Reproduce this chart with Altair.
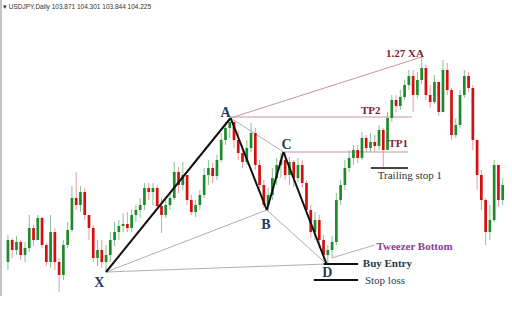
import altair as alt
import pandas as pd

# ---- candle data (price units) ----
first_open = 62
closes = [84, 74, 82, 69, 76, 96, 84, 106, 79, 62, 92, 62, 49, 79, 94, 126, 119, 132, 109, 96,
          66, 74, 62, 69, 84, 92, 98, 100, 96, 109, 114, 119, 136, 132, 136, 118, 109, 119, 126, 152,
          139, 149, 124, 112, 119, 129, 149, 156, 148, 164, 184, 196, 202, 184, 171, 162, 176, 191, 159, 139,
          119, 129, 146, 159, 164, 149, 162, 146, 159, 141, 114, 92, 104, 84, 69, 74, 82, 124, 139, 156,
          166, 174, 166, 186, 176, 182, 178, 194, 174, 206, 224, 218, 227, 239, 248, 229, 244, 256, 229, 222,
          242, 212, 254, 234, 189, 199, 229, 248, 236, 184, 149, 124, 92, 104, 159, 124, 139]
highs = [89, 86, 88, 84, 82, 109, 99, 109, 107, 81, 109, 96, 66, 84, 102, 138, 152, 138, 136, 102,
         99, 84, 84, 79, 92, 102, 104, 111, 112, 114, 119, 126, 141, 141, 141, 139, 126, 124, 132, 162,
         157, 162, 149, 129, 124, 134, 156, 164, 161, 169, 191, 202, 206, 204, 194, 179, 184, 201, 196, 164,
         144, 136, 156, 166, 171, 172, 167, 164, 166, 164, 144, 119, 112, 109, 89, 79, 88, 131, 144, 164,
         174, 179, 179, 192, 189, 191, 189, 199, 196, 212, 229, 229, 234, 244, 254, 254, 252, 267, 259, 239,
         249, 229, 264, 261, 236, 206, 234, 254, 252, 239, 184, 154, 126, 119, 164, 159, 146]
lows = [54, 66, 69, 64, 62, 72, 78, 84, 76, 58, 56, 54, 32, 44, 76, 92, 114, 112, 104, 84,
        62, 58, 56, 52, 62, 78, 84, 92, 92, 92, 102, 106, 114, 124, 119, 114, 91, 106, 114, 124,
        131, 134, 119, 109, 107, 114, 126, 139, 141, 144, 162, 179, 186, 176, 164, 156, 159, 172, 154, 134,
        116, 113, 124, 139, 146, 144, 139, 137, 142, 136, 109, 86, 84, 76, 64, 60, 66, 79, 119, 134,
        152, 159, 161, 164, 172, 172, 172, 174, 156, 174, 202, 212, 214, 224, 234, 212, 226, 240, 224, 216,
        220, 208, 212, 229, 184, 186, 196, 226, 232, 174, 134, 114, 79, 84, 102, 117, 119]

rows = []
prev = first_open
for i, c in enumerate(closes):
    o = prev
    rows.append({"i": i, "open": o, "close": c,
                 "high": max(highs[i], o, c), "low": min(lows[i], o, c),
                 "up": c >= o})
    prev = c
candles = pd.DataFrame(rows)

# ---- harmonic pattern points (index, price) ----
pts = {"X": (23.0, 52), "A": (52.2, 206), "B": (60.7, 114), "C": (64.6, 172), "D": (74.7, 60)}
XA127 = (97.0, 267)

def seg(p, q, style):
    return {"x": p[0], "y": p[1], "x2": q[0], "y2": q[1], "style": style}

segments = pd.DataFrame([
    seg(pts["X"], pts["B"], "thin"),
    seg(pts["X"], pts["D"], "thin"),
    seg(pts["A"], pts["C"], "thin"),
    seg(pts["B"], pts["D"], "thin"),
    seg((75.9, 66), (86.0, 79), "thin"),
    seg(pts["A"], XA127, "brown"),
    seg((52.2, 207), (94.7, 207), "brown"),
    seg((64.6, 172), (93.8, 172), "brown"),
    seg(pts["X"], pts["A"], "black"),
    seg(pts["A"], pts["B"], "black"),
    seg(pts["B"], pts["C"], "black"),
    seg(pts["C"], pts["D"], "black"),
    seg((74.0, 60), (82.1, 60), "black"),
    seg((71.7, 44), (82.1, 44), "black"),
    seg((85.1, 156), (93.8, 156), "grey"),
])

letters = pd.DataFrame({"t": ["X", "A", "B", "C", "D"],
                        "x": [21.4, 51.0, 60.5, 65.3, 74.9],
                        "y": [41, 211, 99, 179, 51]})
brown_labels = pd.DataFrame({"t": ["1.27 XA", "TP2", "TP1"],
                             "x": [93.1, 85.06, 91.5], "y": [270, 213, 180]})
left_bold = pd.DataFrame({"t": ["Tweezer Bottom", "Buy Entry"],
                          "x": [86.4, 83.2], "y": [77, 60],
                          "c": ["#8e3b97", "#1e3d52"]})
left_reg = pd.DataFrame({"t": ["Trailing stop 1", "Stop loss"],
                         "x": [86.7, 83.7], "y": [148, 43],
                         "c": ["#333333", "#2a3d50"]})

header = "\u25BE  USDJPY,Daily  103.871 104.301 103.844 104.225"

xs = alt.Scale(domain=[-0.69, 117.01], nice=False, zero=False)
ys = alt.Scale(domain=[0, 324], nice=False, zero=False)
X = lambda f: alt.X(f, type="quantitative", scale=xs, axis=None)
Y = lambda f: alt.Y(f, type="quantitative", scale=ys, axis=None)

color_up = alt.condition("datum.up", alt.value("#1d8a2c"), alt.value("#d40f0f"))
wick_col = alt.condition("datum.up", alt.value("#86c48c"), alt.value("#e79aa2"))

base = alt.Chart(candles)
wicks = base.mark_rule(strokeWidth=1).encode(x=X("i"), y=Y("low"), y2="high", color=wick_col)
bodies = base.mark_bar(size=2.7).encode(x=X("i"), y=Y("open"), y2="close", color=color_up)

segs = alt.Chart(segments)
thin = segs.transform_filter("datum.style=='thin'").mark_rule(color="#9a9a9a", strokeWidth=0.8).encode(
    x=X("x"), y=Y("y"), x2="x2", y2="y2")
brown = segs.transform_filter("datum.style=='brown'").mark_rule(color="#c9959a", strokeWidth=1).encode(
    x=X("x"), y=Y("y"), x2="x2", y2="y2")
black = segs.transform_filter("datum.style=='black'").mark_rule(color="#111111", strokeWidth=2).encode(
    x=X("x"), y=Y("y"), x2="x2", y2="y2")
grey = segs.transform_filter("datum.style=='grey'").mark_rule(color="#444444", strokeWidth=2).encode(
    x=X("x"), y=Y("y"), x2="x2", y2="y2")

serif = "Liberation Serif"
t_letters = alt.Chart(letters).mark_text(font=serif, fontSize=14, fontWeight="bold", color="#1f3b5c",
                                         baseline="middle", align="center").encode(x=X("x"), y=Y("y"), text="t")
t_brown = alt.Chart(brown_labels).mark_text(font=serif, fontSize=11, fontWeight="bold", color="#7f2233",
                                            baseline="middle", align="center").encode(x=X("x"), y=Y("y"), text="t")
t_lb = alt.Chart(left_bold).mark_text(font=serif, fontSize=11, fontWeight="bold",
                                      baseline="middle", align="left").encode(
    x=X("x"), y=Y("y"), text="t", color=alt.Color("c:N", scale=None))
t_lr = alt.Chart(left_reg).mark_text(font=serif, fontSize=11,
                                     baseline="middle", align="left").encode(
    x=X("x"), y=Y("y"), text="t", color=alt.Color("c:N", scale=None))

hdr = alt.Chart(pd.DataFrame({"t": [header]})).mark_text(
    font="Liberation Sans", fontSize=6.5, color="#333333", align="left", baseline="middle").encode(
    x=alt.value(3), y=alt.value(7), text="t")
border = alt.Chart(pd.DataFrame({"a": [0]})).mark_rule(color="#c4c4c4", strokeWidth=2).encode(
    x=alt.value(1), y=alt.value(0), y2=alt.value(296))

chart = alt.layer(border, thin, brown, wicks, bodies, black, grey, t_letters, t_brown, t_lb, t_lr, hdr).properties(
    width=512, height=324, padding=0, autosize="none", background="white"
).configure_view(stroke=None)

chart.save("out.html", embed_options={"renderer": "svg", "actions": False})
